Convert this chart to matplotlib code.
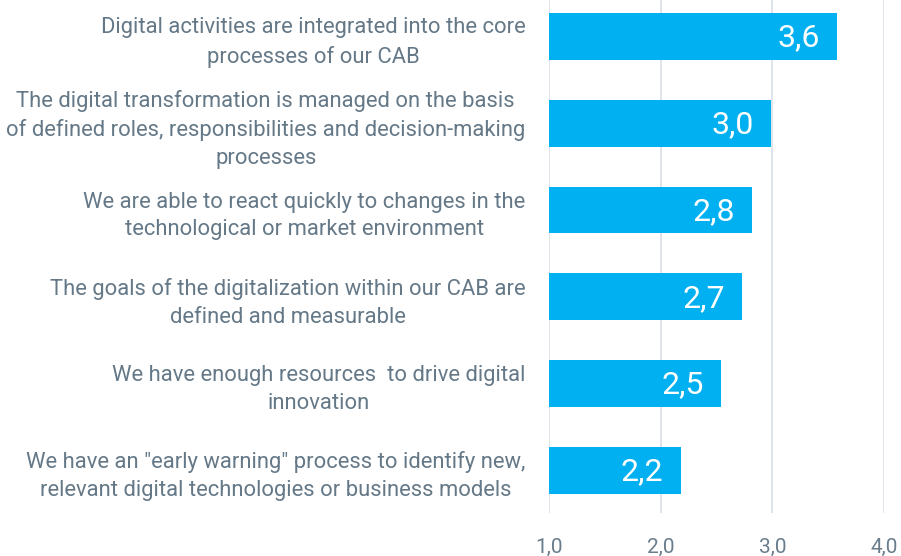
import matplotlib
matplotlib.use("Agg")
import matplotlib.pyplot as plt

categories = [
    "Digital activities are integrated into the core\nprocesses of our CAB",
    "The digital transformation is managed on the basis\nof defined roles, responsibilities and decision-making\nprocesses",
    "We are able to react quickly to changes in the\ntechnological or market environment",
    "The goals of the digitalization within our CAB are\ndefined and measurable",
    "We have enough resources  to drive digital\ninnovation",
    "We have an \"early warning\" process to identify new,\nrelevant digital technologies or business models",
]
values = [3.58, 2.99, 2.82, 2.73, 2.54, 2.18]
value_labels = ["3,6", "3,0", "2,8", "2,7", "2,5", "2,2"]
xticks = [1.0, 2.0, 3.0, 4.0]
xtick_labels = ["1,0", "2,0", "3,0", "4,0"]

plt.rcParams["font.family"] = ["Roboto", "DejaVu Sans"]
cat_size, tick_size, val_size = 15.8, 15, 23

bar_color = "#00b0f0"
text_color = "#647887"
tick_color = "#6a7d8c"
grid_color = "#dbe2e8"

fig = plt.figure(figsize=(9.01, 5.56), dpi=100)
ax = fig.add_axes([549 / 901, (556 - 513) / 556, (884 - 549) / 901, 513 / 556])

ypos = list(range(len(categories)))
base = xticks[0]
ax.barh(ypos, [v - base for v in values], left=base, height=0.54,
        color=bar_color, zorder=3)

for y, v, lab in zip(ypos, values, value_labels):
    ax.annotate(lab, xy=(v, y), xytext=(-12.5, -1), textcoords="offset points",
                ha="right", va="center", color="white", fontsize=val_size,
                zorder=4)

ax.set_xlim(1.0, 4.0)
ax.set_ylim(5.49, -0.42)
ax.set_xticks(xticks)
ax.set_xticklabels(xtick_labels, color=tick_color, fontsize=tick_size)
ax.set_yticks(ypos)
ax.set_yticklabels(categories, color=text_color, fontsize=cat_size)
for t in ax.get_yticklabels():
    t.set_multialignment("center")
    t.set_linespacing(1.42)

ax.tick_params(axis="y", length=0, pad=17)
ax.tick_params(axis="x", length=0, pad=18)
ax.grid(axis="x", color=grid_color, linewidth=1.3, zorder=0)
ax.grid(axis="y", visible=False)
for s in ax.spines.values():
    s.set_visible(False)

fig.savefig("out.png", dpi=100)
